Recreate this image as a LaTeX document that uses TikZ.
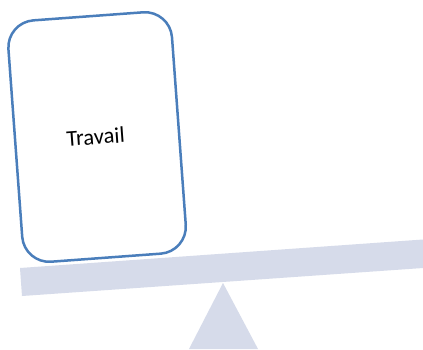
\documentclass[tikz,border=0pt]{standalone}
\usepackage{fontspec}
\setmainfont{Carlito}
\definecolor{boxblue}{HTML}{4A7EBB}
\definecolor{beamfill}{HTML}{D6DBEA}
\tikzset{
  card/.style={draw=boxblue,line width=2.5pt,fill=white,rounded corners=27pt,minimum width=164pt,minimum height=242pt,inner sep=0pt,font=\fontsize{22.5}{26}\selectfont,text=black},
  seesaw/.style={fill=beamfill,draw=none}
}
\begin{document}
\begin{tikzpicture}[x=1pt,y=-1pt]
\useasboundingbox (0,0) rectangle (423,349);
\fill[white] (0,0) rectangle (423,349);
\path[seesaw] (20,268) -- (423,239.5) -- (423,268) -- (22,296) -- cycle;
\path[seesaw] (223,283) -- (258,349) -- (189,349) -- cycle;
\node[card,rotate=4.2] (travail) at (97.1,137) {\raisebox{1pt}{\kern-3pt Travail}};
\end{tikzpicture}
\end{document}
